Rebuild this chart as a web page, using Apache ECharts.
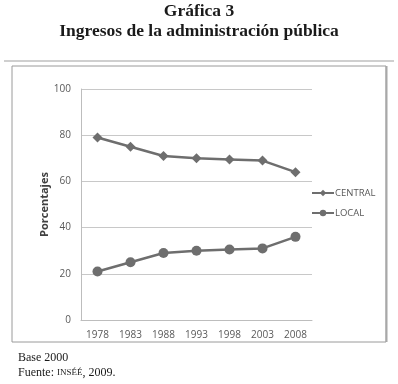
<!DOCTYPE html>
<html><head><meta charset="utf-8">
<script src="https://cdn.jsdelivr.net/npm/echarts@6/dist/echarts.min.js"></script>
<style>html,body{margin:0;padding:0;background:#fff}#c{width:398px;height:384px}</style>
</head><body><div id="c"></div>
<script>
const years = ['1978','1983','1988','1993','1998','2003','2008'];
const central = [79, 75, 71, 70, 69.5, 69, 64];
const local = [21, 25, 29, 30, 30.5, 31, 36];
const yTicks = [0, 20, 40, 60, 80, 100];

const chart = echarts.init(document.getElementById('c'), null, {renderer:'canvas'});
const serif = "'Liberation Serif', 'DejaVu Serif', serif";
const sans = "'Open Sans', 'Noto Sans', sans-serif";
const lineColor = '#6e6e6e';
chart.setOption({
  animation: false,
  backgroundColor: '#fff',
  graphic: [
    {type:'text', left:'center', top:2, style:{text:'Gráfica 3', font:"bold 17.5px "+serif, fill:'#1a1a1a'}},
    {type:'text', left:'center', top:22, style:{text:'Ingresos de la administración pública', font:"bold 17.5px "+serif, fill:'#1a1a1a'}},
    {type:'line', shape:{x1:4, y1:61, x2:394, y2:61}, style:{stroke:'#cfcfcf', lineWidth:2}},
    {type:'rect', shape:{x:12, y:66, width:374, height:276}, style:{fill:'none', stroke:'#9a9a9a', lineWidth:1}},
    {type:'line', shape:{x1:386.5, y1:66, x2:386.5, y2:342}, style:{stroke:'#a8a8a8', lineWidth:2}},
    {type:'text', left:18, top:352, style:{text:'Base 2000', font:"12px "+serif, fill:'#1a1a1a'}},
    {type:'text', left:18, top:367, style:{
      text:'Fuente: {sc|INSÉÉ}, 2009.',
      font:"12px "+serif, fill:'#1a1a1a',
      rich:{sc:{fontSize:9, fontFamily:serif, fill:'#1a1a1a'}}
    }}
  ],
  grid: {left:81, top:89, width:231, height:231, containLabel:false},
  legend: {
    orient:'vertical', left:306, top:183, itemGap:10,
    itemWidth:22, itemHeight:8,
    textStyle:{fontSize:9.5, fontFamily:sans, color:'#595959', padding:[0,0,0,-4]},
    data:['CENTRAL','LOCAL']
  },
  xAxis: {
    type:'category', data:years, boundaryGap:true,
    axisLine:{show:true, lineStyle:{color:'#bdbdbd', width:1}},
    axisTick:{show:false},
    axisLabel:{fontSize:10, fontFamily:sans, color:'#595959', margin:10}
  },
  yAxis: {
    type:'value', min:yTicks[0], max:yTicks[yTicks.length-1], interval:20,
    name:'Porcentajes', nameLocation:'middle', nameGap:31, nameRotate:90,
    nameMoveOverlap:false,
    nameTextStyle:{fontSize:11, fontWeight:'bold', fontFamily:sans, color:'#404040'},
    axisLine:{show:true, lineStyle:{color:'#bdbdbd', width:1}},
    axisTick:{show:false},
    splitLine:{show:true, lineStyle:{color:'#c8c8c8', width:1}},
    axisLabel:{fontSize:10, fontFamily:sans, color:'#595959', margin:10}
  },
  series: [
    {name:'CENTRAL', type:'line', data:central, symbol:'diamond', symbolSize:10,
     lineStyle:{color:lineColor, width:2.5}, itemStyle:{color:lineColor}},
    {name:'LOCAL', type:'line', data:local, symbol:'circle', symbolSize:10,
     lineStyle:{color:lineColor, width:2.5}, itemStyle:{color:lineColor}}
  ]
});
</script></body></html>
